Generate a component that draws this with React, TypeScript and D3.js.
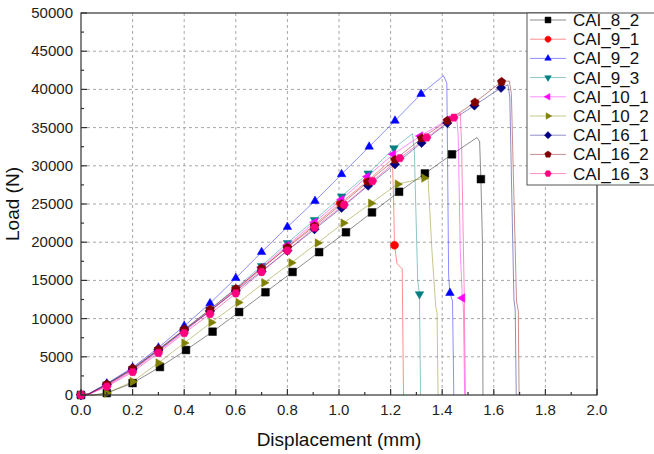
import React from "react";
import * as d3 from "d3";

// Each point: [displacement (mm), load (N), marker shown (1/0)]
const cai8_2 = [[0,0,1],[0.05,0,0],[0.1,250,1],[0.2,1560,1],[0.306,3660,1],[0.407,5890,1],[0.51,8290,1],[0.613,10860,1],[0.715,13450,1],[0.82,16100,1],[0.923,18700,1],[1.027,21300,1],[1.128,23900,1],[1.233,26600,1],[1.333,29000,1],[1.438,31500,1],[1.535,33700,0],[1.545,33200,0],[1.55,28250,1],[1.556,20000,0],[1.558,0,0]];
const cai9_1 = [[0,0,1],[0.03,100,0],[0.1,1300,1],[0.2,3300,1],[0.3,5800,1],[0.4,8400,1],[0.5,11000,1],[0.6,13700,1],[0.7,16500,1],[0.8,19400,1],[0.905,22300,1],[1.005,25100,1],[1.11,28000,1],[1.2,30700,0],[1.207,30900,0],[1.212,25000,0],[1.215,19600,1],[1.225,17200,0],[1.245,16500,0],[1.25,0,0]];
const cai9_2 = [[0,0,1],[0.03,150,0],[0.1,1500,1],[0.2,3600,1],[0.3,6200,1],[0.4,9030,1],[0.5,12000,1],[0.6,15300,1],[0.7,18700,1],[0.8,22000,1],[0.907,25400,1],[1.01,28900,1],[1.117,32500,1],[1.217,35900,1],[1.318,39400,1],[1.405,41800,0],[1.418,40800,0],[1.425,15500,0],[1.43,13350,1],[1.44,12300,0],[1.445,0,0]];
const cai9_3 = [[0,0,1],[0.03,100,0],[0.1,1400,1],[0.2,3400,1],[0.3,5900,1],[0.4,8500,1],[0.5,11200,1],[0.6,14000,1],[0.7,16900,1],[0.8,19900,1],[0.905,22900,1],[1.01,26000,1],[1.113,29000,1],[1.213,32300,1],[1.285,34200,0],[1.292,32000,0],[1.305,15000,0],[1.312,13200,1],[1.316,0,0]];
const cai10_1 = [[0,0,1],[0.03,80,0],[0.1,1200,1],[0.2,3200,1],[0.3,5700,1],[0.4,8300,1],[0.5,11000,1],[0.6,13800,1],[0.7,16700,1],[0.8,19600,1],[0.905,22600,1],[1.01,25600,1],[1.11,28600,1],[1.21,31500,1],[1.315,33900,1],[1.42,36000,1],[1.455,36800,0],[1.462,34000,0],[1.47,19000,0],[1.478,12700,1],[1.482,11500,0],[1.487,0,0]];
const cai10_2 = [[0,0,1],[0.05,0,0],[0.1,250,1],[0.2,1750,1],[0.3,4200,1],[0.4,6800,1],[0.505,9500,1],[0.61,12100,1],[0.71,14700,1],[0.815,17300,1],[0.917,19900,1],[1.017,22500,1],[1.124,25100,1],[1.227,27600,1],[1.33,28400,1],[1.34,29400,0],[1.345,28500,0],[1.36,19000,0],[1.375,11500,0],[1.38,10800,0],[1.384,0,0]];
const cai16_1 = [[0,0,1],[0.03,150,0],[0.1,1400,1],[0.2,3400,1],[0.3,5900,1],[0.4,8500,1],[0.5,11000,1],[0.6,13600,1],[0.7,16200,1],[0.8,18900,1],[0.905,21700,1],[1.01,24500,1],[1.113,27400,1],[1.217,30200,1],[1.32,33000,1],[1.42,35600,1],[1.525,37900,1],[1.628,40200,1],[1.655,40600,0],[1.662,39000,0],[1.678,12500,0],[1.683,11200,0],[1.687,0,0]];
const cai16_2 = [[0,0,1],[0.03,150,0],[0.1,1400,1],[0.2,3500,1],[0.3,6000,1],[0.4,8600,1],[0.5,11200,1],[0.6,13900,1],[0.7,16600,1],[0.8,19300,1],[0.905,22100,1],[1.01,25000,1],[1.113,27900,1],[1.217,30800,1],[1.32,33600,1],[1.42,35900,1],[1.527,38300,1],[1.63,41000,1],[1.66,41100,0],[1.668,39500,0],[1.688,12300,0],[1.695,11000,0],[1.698,0,0]];
const cai16_3 = [[0,0,1],[0.03,100,0],[0.1,1100,1],[0.2,3000,1],[0.3,5500,1],[0.4,8100,1],[0.5,10600,1],[0.6,13300,1],[0.7,16100,1],[0.8,18900,1],[0.905,21900,1],[1.02,24900,1],[1.13,28000,1],[1.236,31000,1],[1.34,33700,1],[1.445,36300,1],[1.47,36900,0],[1.475,33000,0],[1.485,14000,0],[1.49,0,0]];

const seriesNames = ["CAI_8_2","CAI_9_1","CAI_9_2","CAI_9_3","CAI_10_1","CAI_10_2","CAI_16_1","CAI_16_2","CAI_16_3"];
const seriesData = [cai8_2, cai9_1, cai9_2, cai9_3, cai10_1, cai10_2, cai16_1, cai16_2, cai16_3];
const seriesColors = ["#000000","#FF0000","#0000FF","#008080","#FF00FF","#808000","#000080","#800000","#FF0080"];
const seriesSymbols = ["square","circle","up","down","left","right","diamond","pentagon","hexagon"];

const xTicks = [0,0.2,0.4,0.6,0.8,1.0,1.2,1.4,1.6,1.8,2.0];
const yTicks = [0,5000,10000,15000,20000,25000,30000,35000,40000,45000,50000];

const W = 654, H = 454;
const L = 81, R = 597, T = 13, B = 395;
const FONT = "'Liberation Sans', Arial, sans-serif";

function polyPath(n: number, r: number, rot: number) {
  const pts: string[] = [];
  for (let i = 0; i < n; i++) {
    const a = rot + (i * 2 * Math.PI) / n;
    pts.push(`${(r * Math.cos(a)).toFixed(2)},${(r * Math.sin(a)).toFixed(2)}`);
  }
  return "M" + pts.join("L") + "Z";
}

function symbolPath(type: string, r: number) {
  switch (type) {
    case "square": return `M${-r * 0.82},${-r * 0.82}H${r * 0.82}V${r * 0.82}H${-r * 0.82}Z`;
    case "circle": return polyPath(24, r * 0.85, 0);
    case "up": return polyPath(3, r * 1.05, -Math.PI / 2);
    case "down": return polyPath(3, r * 1.05, Math.PI / 2);
    case "left": return polyPath(3, r * 1.05, Math.PI);
    case "right": return polyPath(3, r * 1.05, 0);
    case "diamond": return polyPath(4, r, -Math.PI / 2);
    case "pentagon": return polyPath(5, r * 0.95, -Math.PI / 2);
    case "hexagon": return polyPath(6, r * 0.9, 0);
    default: return polyPath(24, r, 0);
  }
}

export default function App() {
  const x = d3.scaleLinear().domain([0, 2]).range([L, R]);
  const y = d3.scaleLinear().domain([0, 50000]).range([B, T]);
  const line = d3.line<number[]>().x((d) => x(d[0])).y((d) => y(d[1]));
  const xMinor = d3.range(0.1, 2.0, 0.2);
  const yMinor = d3.range(2500, 50000, 5000);

  return (
    <div style={{ position: "absolute", left: 0, top: 0 }}>
      <svg width={W} height={H} style={{ display: "block", background: "#fff" }} fontFamily={FONT}>
        <rect x={0} y={0} width={W} height={H} fill="#fff" />
        {/* grid */}
        {xTicks.slice(1, -1).map((t) => (
          <line key={"gx" + t} x1={x(t)} x2={x(t)} y1={T} y2={B} stroke="#a8a8a8" strokeDasharray="3,3" strokeWidth={1} />
        ))}
        {yTicks.slice(1, -1).map((t) => (
          <line key={"gy" + t} x1={L} x2={R} y1={y(t)} y2={y(t)} stroke="#a8a8a8" strokeDasharray="3,3" strokeWidth={1} />
        ))}
        {/* series */}
        {seriesData.map((data, i) => (
          <g key={seriesNames[i]}>
            <path d={line(data as number[][]) || ""} fill="none" stroke={seriesColors[i]} strokeWidth={0.9} strokeOpacity={0.5} />
          </g>
        ))}
        {seriesData.map((data, i) => (
          <g key={"m" + seriesNames[i]}>
            {data.filter((d) => d[2] === 1).map((d, j) => (
              <path key={j} d={symbolPath(seriesSymbols[i], 4.7)} transform={`translate(${x(d[0])},${y(d[1])})`} fill={seriesColors[i]} stroke={seriesColors[i]} strokeWidth={0.5} />
            ))}
          </g>
        ))}
        {/* frame */}
        <rect x={L} y={T} width={R - L} height={B - T} fill="none" stroke="#333" strokeWidth={1.2} />
        {/* ticks */}
        {xTicks.map((t) => (
          <g key={"xt" + t}>
            <line x1={x(t)} x2={x(t)} y1={B} y2={B - 6} stroke="#333" strokeWidth={1.2} />
            <text x={x(t)} y={B + 20} textAnchor="middle" fontSize={15} fill="#222">{t.toFixed(1)}</text>
          </g>
        ))}
        {xMinor.map((t) => (
          <line key={"xm" + t} x1={x(t)} x2={x(t)} y1={B} y2={B - 3} stroke="#333" strokeWidth={1.2} />
        ))}
        {yTicks.map((t) => (
          <g key={"yt" + t}>
            <line x1={L} x2={L + 6} y1={y(t)} y2={y(t)} stroke="#333" strokeWidth={1.2} />
            <text x={L - 8} y={y(t) + 5} textAnchor="end" fontSize={15} fill="#222">{t}</text>
          </g>
        ))}
        {yMinor.map((t) => (
          <line key={"ym" + t} x1={L} x2={L + 3} y1={y(t)} y2={y(t)} stroke="#333" strokeWidth={1.2} />
        ))}
        {/* axis titles */}
        <text x={(L + R) / 2} y={446} textAnchor="middle" fontSize={19} fill="#111">Displacement (mm)</text>
        <text transform={`translate(19,${(T + B) / 2}) rotate(-90)`} textAnchor="middle" fontSize={19} fill="#111">Load (N)</text>
        {/* legend */}
        <rect x={527} y={T} width={140} height={172} fill="#fff" stroke="#555" strokeWidth={1} />
        {seriesNames.map((n, i) => {
          const ly = 20 + 19.2 * i;
          return (
            <g key={"lg" + n}>
              <line x1={530} x2={566} y1={ly} y2={ly} stroke={seriesColors[i]} strokeWidth={0.9} strokeOpacity={0.5} />
              <path d={symbolPath(seriesSymbols[i], 3.6)} transform={`translate(548,${ly})`} fill={seriesColors[i]} stroke={seriesColors[i]} strokeWidth={0.5} />
              <text x={573} y={ly + 6} fontSize={17} fill="#111">{n}</text>
            </g>
          );
        })}
      </svg>
    </div>
  );
}
